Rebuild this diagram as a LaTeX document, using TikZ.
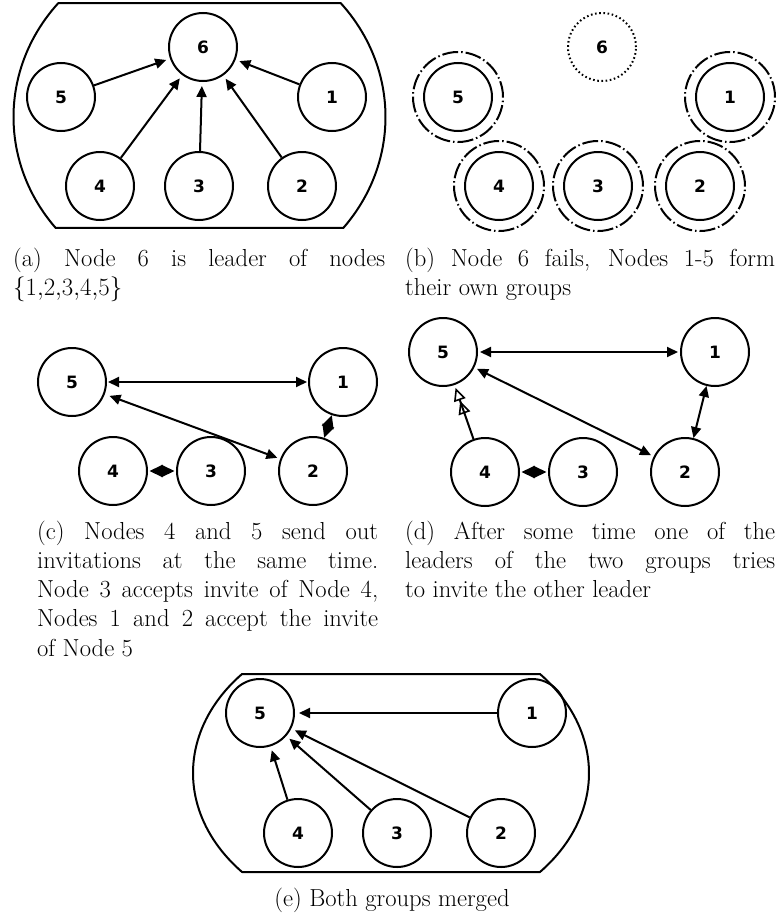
\documentclass[tikz,border=0pt]{standalone}
\usepackage{fontspec}
\newfontfamily\peerfamily{DejaVu Sans}
\usetikzlibrary{arrows.meta}

\newcommand\peerfont{\peerfamily\bfseries\fontsize{17}{17}\selectfont}
\newcommand\capsize{\fontsize{24.6}{29.25}\selectfont}

\tikzset{
  peer/.style={circle, draw, line width=2pt, minimum size=68pt, inner sep=0pt, font=\peerfont},
  gone/.style={peer, dash pattern=on 1.6pt off 2.6pt},
  groupring/.style={circle, draw, line width=2pt, minimum size=90pt, inner sep=0pt,
               dash pattern=on 16pt off 3pt on 1.5pt off 3pt},
  tipT/.tip={Triangle[length=11pt,width=10pt]},
  tipB/.tip={Triangle[length=13pt,width=12pt]},
  tipO/.tip={Triangle[open,length=13pt,width=12pt,line width=1.6pt]},
  link/.style={line width=2pt, -tipT, shorten >=4pt},
  duo/.style={line width=2pt, tipT-tipT},
  pair/.style={line width=2pt, tipB-tipB, shorten <=1.5pt, shorten >=1.5pt},
  invite/.style={line width=2pt, -{tipO[sep=1pt] tipO}, shorten >=3pt},
  hull/.style={line width=2pt, line join=round},
  % multi-line captions are placed by the baseline of their last line
  captext/.style={font=\capsize, align=left, inner sep=0pt, anchor=base west}
}

\begin{document}
\begin{tikzpicture}[x=1pt,y=-1pt]
\useasboundingbox (0,0) rectangle (777,918);

% ---------- (a) node 6 leads the group ----------
\draw[hull] plot[domain=-40.65:39.35, samples=50] ({199.5+186*cos(\x)},{117+175*sin(\x)})
  -- plot[domain=140.65:220.65, samples=50] ({199.5+186*cos(\x)},{117+175*sin(\x)}) -- cycle;
\node[peer] (a6) at (203,47) {6};
\node[peer] (a5) at (61,97) {5};
\node[peer] (a1) at (332,97) {1};
\node[peer] (a4) at (100,186) {4};
\node[peer] (a3) at (199,186) {3};
\node[peer] (a2) at (302,186) {2};
\foreach \p in {a5,a4,a3,a2,a1} \draw[link] (\p) -- (a6);
\node[captext] (capa) at (13,295.75) {\makebox[372pt][s]{(a) Node 6 is leader of nodes}\\$\{1{,}2{,}3{,}4{,}5\}$};

% ---------- (b) node 6 fails ----------
\node[gone] (b6) at (602,47) {6};
\foreach \n/\x/\y in {5/458/97, 1/730/97, 4/499/186, 3/598/186, 2/700/186} {
  \node[peer] (b\n) at (\x,\y) {\n};
  \node[groupring] (r\n) at (\x,\y) {};
}
\node[captext] (capb) at (405,295.75) {\makebox[370pt][s]{(b) Node 6 fails, Nodes 1-5 form}\\their own groups};

% ---------- (c) simultaneous invitations ----------
\node[peer] (c5) at (72,382) {5};
\node[peer] (c1) at (343,382) {1};
\node[peer] (c4) at (113,471) {4};
\node[peer] (c3) at (211,471) {3};
\node[peer] (c2) at (313,471) {2};
\draw[duo, shorten <=1pt, shorten >=1pt] (c5) -- (c1);
\draw[duo, shorten <=5pt, shorten >=3pt] (c5) -- (c2);
\draw[pair] (c4) -- (c3);
\draw[pair, shorten <=0pt, shorten >=0pt] (c2) -- (c1);
\node[captext] (capc) at (37,656) {\makebox[341pt][s]{(c) Nodes 4 and 5 send out}\\
  \makebox[341pt][s]{invitations at the same time.}\\
  \makebox[341pt][s]{Node 3 accepts invite of Node 4,}\\
  \makebox[341pt][s]{Nodes 1 and 2 accept the invite}\\
  of Node 5};

% ---------- (d) one leader invites the other ----------
\node[peer] (d5) at (443,352) {5};
\node[peer] (d1) at (715,352) {1};
\node[peer] (d4) at (485,472) {4};
\node[peer] (d3) at (583,472) {3};
\node[peer] (d2) at (685,472) {2};
\draw[duo, shorten <=2pt, shorten >=2pt] (d5) -- (d1);
\draw[duo, shorten <=3pt, shorten >=3pt] (d5) -- (d2);
\draw[duo] (d2) -- (d1);
\draw[pair] (d4) -- (d3);
\draw[invite] (d4) -- (d5);
\node[captext] (capd) at (405,597.5) {\makebox[370pt][s]{(d) After some time one of the}\\
  \makebox[370pt][s]{leaders of the two groups tries}\\
  to invite the other leader};

% ---------- (e) merged group ----------
\draw[hull] plot[domain=-41.2:41.2, samples=50] ({391+198*cos(\x)},{773+150.3*sin(\x)})
  -- plot[domain=138.8:221.2, samples=50] ({391+198*cos(\x)},{773+150.3*sin(\x)}) -- cycle;
\node[peer] (e5) at (260,713) {5};
\node[peer] (e1) at (532,713) {1};
\node[peer] (e4) at (298,833) {4};
\node[peer] (e3) at (397,833) {3};
\node[peer] (e2) at (501,833) {2};
\foreach \p in {e1,e4,e3,e2} \draw[link] (\p) -- (e5);
\node[font=\capsize, inner sep=0pt, anchor=base] (cape) at (392,906) {(e) Both groups merged};
\end{tikzpicture}
\end{document}
